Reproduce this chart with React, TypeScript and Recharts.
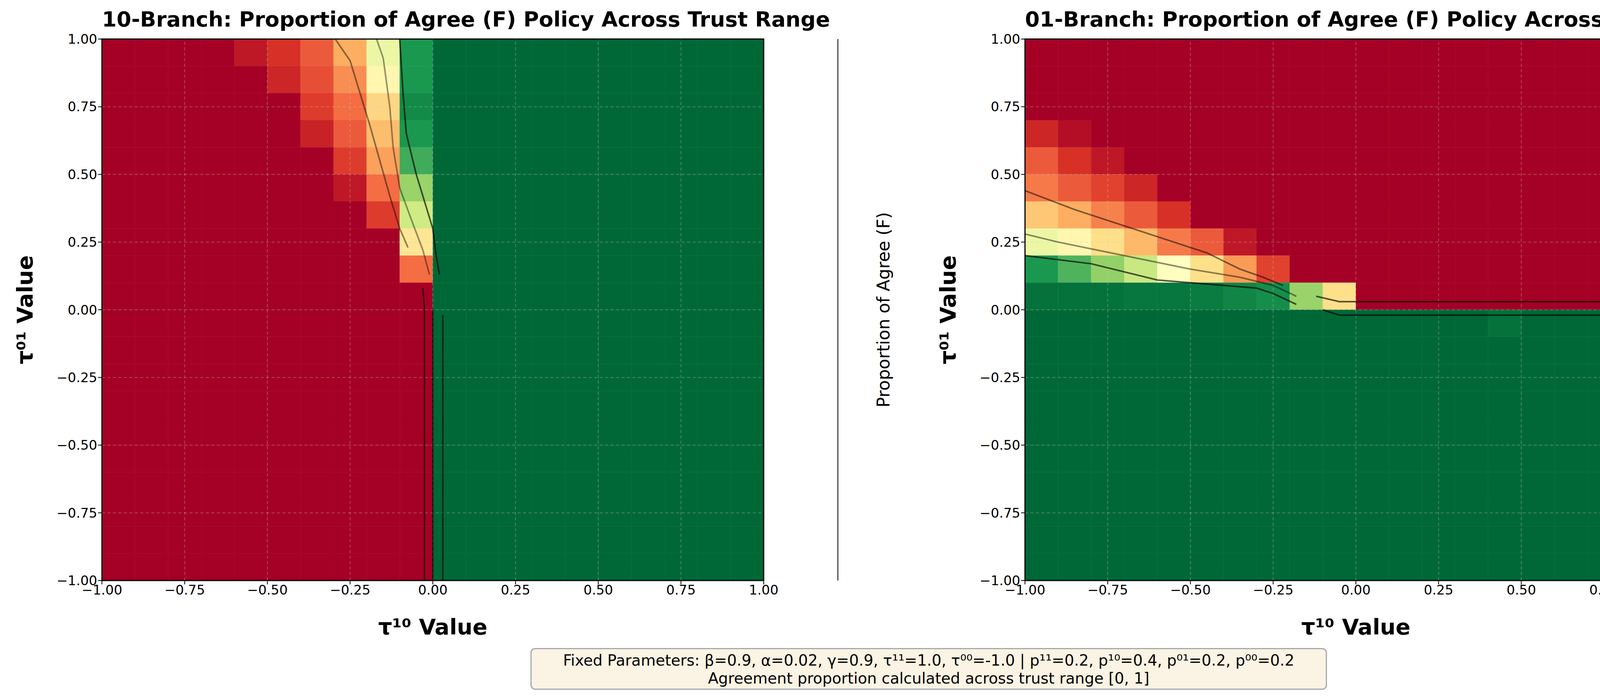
import React from 'react';
import { ComposedChart, XAxis, YAxis, ReferenceArea, ReferenceLine, Scatter } from 'recharts';

// cell edges along each axis (20 cells of width 0.1)
const EDGES = [-1, -0.9, -0.8, -0.7, -0.6, -0.5, -0.4, -0.3, -0.2, -0.1, 0, 0.1, 0.2, 0.3, 0.4, 0.5, 0.6, 0.7, 0.8, 0.9, 1];
const TICKS = [-1, -0.75, -0.5, -0.25, 0, 0.25, 0.5, 0.75, 1];
const CBAR_TICKS = [0, 0.2, 0.4, 0.6, 0.8, 1];

const Z10 = [0, 0, 0, 0, 0, 0, 0, 0, 0, 0];
const O10 = [1, 1, 1, 1, 1, 1, 1, 1, 1, 1];
const Z20 = [...Z10, ...Z10];
const O20 = [...O10, ...O10];

// rows from top (tau01 0.9..1.0) to bottom (-1.0..-0.9), columns from tau10 = -1
const LEFT_ROWS = [
  [0, 0, 0, 0, 0.05, 0.1, 0.17, 0.3, 0.55, 0.9, ...O10],
  [0, 0, 0, 0, 0, 0.08, 0.15, 0.25, 0.47, 0.9, ...O10],
  [0, 0, 0, 0, 0, 0, 0.12, 0.2, 0.38, 0.93, ...O10],
  [0, 0, 0, 0, 0, 0, 0.07, 0.17, 0.33, 0.9, ...O10],
  [0, 0, 0, 0, 0, 0, 0, 0.12, 0.28, 0.85, ...O10],
  [0, 0, 0, 0, 0, 0, 0, 0.05, 0.2, 0.72, ...O10],
  [0, 0, 0, 0, 0, 0, 0, 0, 0.12, 0.62, ...O10],
  [0, 0, 0, 0, 0, 0, 0, 0, 0, 0.42, ...O10],
  [0, 0, 0, 0, 0, 0, 0, 0, 0, 0.2, ...O10],
  [...Z10, ...O10], [...Z10, ...O10], [...Z10, ...O10], [...Z10, ...O10], [...Z10, ...O10],
  [...Z10, ...O10], [...Z10, ...O10], [...Z10, ...O10], [...Z10, ...O10], [...Z10, ...O10], [...Z10, ...O10],
];

const RIGHT_ROWS = [
  Z20, Z20, Z20,
  [0.08, 0.03, 0, 0, 0, 0, 0, 0, 0, 0, ...Z10],
  [0.17, 0.1, 0.05, 0, 0, 0, 0, 0, 0, 0, ...Z10],
  [0.22, 0.17, 0.13, 0.08, 0, 0, 0, 0, 0, 0, ...Z10],
  [0.35, 0.3, 0.23, 0.17, 0.1, 0, 0, 0, 0, 0, ...Z10],
  [0.55, 0.47, 0.4, 0.32, 0.22, 0.17, 0.05, 0, 0, 0, ...Z10],
  [0.9, 0.83, 0.73, 0.63, 0.5, 0.4, 0.27, 0.13, 0, 0, ...Z10],
  [0.98, 0.98, 0.98, 0.97, 0.97, 0.96, 0.94, 0.92, 0.72, 0.4, ...Z10],
  [...O10, 1, 1, 1, 1, 0.98, 1, 1, 1, 1, 1],
  O20, O20, O20, O20, O20, O20, O20, O20, O20,
];

// contour lines: [tau10, tau01]
const L_C25 = [[-0.295, 1], [-0.25, 0.92], [-0.22, 0.8], [-0.19, 0.68], [-0.16, 0.55], [-0.13, 0.42], [-0.1, 0.3], [-0.075, 0.23]];
const L_C25B = [[-0.03, 0.08], [-0.025, 0.0], [-0.025, -1]];
const L_C50 = [[-0.17, 1], [-0.15, 0.93], [-0.13, 0.75], [-0.12, 0.6], [-0.1, 0.45], [-0.07, 0.35], [-0.03, 0.22], [-0.01, 0.13]];
const L_C50B = [[0, 0.0], [0, -1]];
const L_C75 = [[-0.1, 1], [-0.09, 0.8], [-0.08, 0.65], [-0.05, 0.5], [-0.02, 0.38], [0, 0.3], [0.01, 0.2], [0.02, 0.13]];
const L_C75B = [[0.03, -0.02], [0.03, -1]];
const R_C25 = [[-1, 0.44], [-0.85, 0.37], [-0.75, 0.33], [-0.55, 0.25], [-0.45, 0.21], [-0.35, 0.15], [-0.28, 0.12], [-0.22, 0.09]];
const R_C25B = [[-0.12, 0.05], [-0.05, 0.03], [1, 0.03]];
const R_C50 = [[-1, 0.28], [-0.9, 0.25], [-0.7, 0.2], [-0.5, 0.15], [-0.35, 0.12], [-0.25, 0.09], [-0.18, 0.05]];
const R_C75 = [[-1, 0.2], [-0.8, 0.17], [-0.6, 0.11], [-0.5, 0.1], [-0.3, 0.08], [-0.25, 0.06], [-0.18, 0.02]];
const R_C75B = [[-0.1, 0.0], [-0.05, -0.02], [1, -0.02]];

const RDYLGN = ['#a50026', '#d73027', '#f46d43', '#fdae61', '#fee08b', '#ffffbf', '#d9ef8b', '#a6d96a', '#66bd63', '#1a9850', '#006837'];

function hex(c: string) { return [1, 3, 5].map((i) => parseInt(c.slice(i, i + 2), 16)); }
function cmap(v: number) {
  const t = Math.max(0, Math.min(1, v)) * 10;
  const i = Math.min(9, Math.floor(t));
  const f = t - i;
  const a = hex(RDYLGN[i]), b = hex(RDYLGN[i + 1]);
  return `rgb(${a.map((x, k) => Math.round(x + (b[k] - x) * f)).join(',')})`;
}

const FONT = '"DejaVu Sans", sans-serif';
const tickStyle = { fill: '#000', fontSize: 34, fontFamily: FONT };
const fmt2 = (v: number) => v.toFixed(2).replace('-', '\u2212');
const Y_AXIS_W = 160;
const X_AXIS_H = 60;

function toPts(p: number[][]) { return p.map(([x, y]) => ({ x, y })); }

function Heatmap({ rows, contours, width, left }: { rows: number[][]; contours: { pts: number[][]; alpha: number }[]; width: number; left: number }) {
  const cells: React.ReactNode[] = [];
  rows.forEach((row, r) => {
    row.forEach((v, c) => {
      cells.push(
        <ReferenceArea key={`${r}-${c}`} x1={EDGES[c]} x2={EDGES[c + 1]} y1={EDGES[19 - r]} y2={EDGES[20 - r]}
          fill={cmap(v)} fillOpacity={1} stroke={cmap(v)} strokeWidth={0.5} ifOverflow="visible" />
      );
    });
  });
  return (
    <ComposedChart width={width} height={1788}
      margin={{ top: 100, bottom: 1788 - 1487 - X_AXIS_H, left: left - Y_AXIS_W, right: width - left - 1694 }}>
      <XAxis type="number" dataKey="x" domain={[-1, 1]} ticks={TICKS} tickFormatter={fmt2} tick={tickStyle}
        tickSize={10} stroke="#000" strokeWidth={2} allowDataOverflow height={X_AXIS_H}
        label={{ value: 'τ¹⁰ Value', position: 'insideBottom', offset: -78, style: { fontSize: 56, fontWeight: 'bold', fontFamily: FONT, fill: '#000' } }} />
      <YAxis type="number" dataKey="y" domain={[-1, 1]} ticks={TICKS} tickFormatter={fmt2} tick={tickStyle}
        tickSize={10} stroke="#000" strokeWidth={2} allowDataOverflow width={Y_AXIS_W}
        label={{ value: 'τ⁰¹ Value', angle: -90, position: 'insideLeft', offset: -38, style: { fontSize: 56, fontWeight: 'bold', fontFamily: FONT, fill: '#000', textAnchor: 'middle' } }} />
      {cells}
      {TICKS.slice(1, -1).map((t) => (
        <ReferenceLine key={`gx${t}`} x={t} stroke="#c8c8c8" strokeOpacity={0.35} strokeDasharray="8 6" strokeWidth={2} />
      ))}
      {TICKS.slice(1, -1).map((t) => (
        <ReferenceLine key={`gy${t}`} y={t} stroke="#c8c8c8" strokeOpacity={0.35} strokeDasharray="8 6" strokeWidth={2} />
      ))}
      {contours.map((c, i) => (
        <Scatter key={i} data={toPts(c.pts)} line={{ stroke: '#000', strokeOpacity: c.alpha, strokeWidth: 4 }}
          shape={() => null} isAnimationActive={false} />
      ))}
      <ReferenceArea x1={-1} x2={1} y1={-1} y2={1} fill="none" stroke="#000" strokeWidth={3} ifOverflow="visible" />
    </ComposedChart>
  );
}

function ColorBar() {
  const steps = Array.from({ length: 100 }, (_, i) => i / 100);
  return (
    <ComposedChart width={315} height={1788} margin={{ top: 100, bottom: 301, left: 60, right: 0 }}>
      <XAxis type="number" domain={[0, 1]} hide />
      <YAxis type="number" orientation="right" domain={[0, 1]} ticks={CBAR_TICKS} tickFormatter={(v: number) => v.toFixed(1)}
        tick={tickStyle} tickSize={10} stroke="#000" strokeWidth={2} width={170}
        label={{ value: 'Proportion of Agree (F)', angle: -90, position: 'insideRight', offset: 54, style: { fontSize: 44, fontFamily: FONT, fill: '#000', textAnchor: 'middle' } }} />
      {steps.map((s) => (
        <ReferenceArea key={s} x1={0} x2={1} y1={s} y2={s + 0.0101} fill={cmap(s + 0.005)} fillOpacity={1} stroke="none" ifOverflow="visible" />
      ))}
      <ReferenceArea x1={0} x2={1} y1={0} y2={1} fill="none" stroke="#000" strokeWidth={2} ifOverflow="visible" />
    </ComposedChart>
  );
}

const titleStyle: React.CSSProperties = { position: 'absolute', top: 18, fontFamily: FONT, fontWeight: 'bold', fontSize: 54, textAlign: 'center', whiteSpace: 'nowrap' };

export default function App() {
  const lc = [
    { pts: L_C25, alpha: 0.45 }, { pts: L_C25B, alpha: 0.6 }, { pts: L_C50, alpha: 0.4 },
    { pts: L_C50B, alpha: 0.6 }, { pts: L_C75, alpha: 0.65 }, { pts: L_C75B, alpha: 0.6 },
  ];
  const rc = [
    { pts: R_C25, alpha: 0.5 }, { pts: R_C25B, alpha: 0.65 }, { pts: R_C50, alpha: 0.45 },
    { pts: R_C75, alpha: 0.65 }, { pts: R_C75B, alpha: 0.65 },
  ];
  return (
    <div style={{ position: 'absolute', left: 0, top: 0, width: 4681, height: 1788, background: '#fff', overflow: 'hidden' }}>
      <div style={{ ...titleStyle, left: 261, width: 1694 }}>10-Branch: Proportion of Agree (F) Policy Across Trust Range</div>
      <div style={{ ...titleStyle, left: 2624, width: 1692 }}>01-Branch: Proportion of Agree (F) Policy Across Trust Range</div>
      <div style={{ position: 'absolute', left: 0, top: 0 }}>
        <Heatmap rows={LEFT_ROWS} contours={lc} width={2000} left={261} />
      </div>
      <div style={{ position: 'absolute', left: 2000, top: 0 }}><ColorBar /></div>
      <div style={{ position: 'absolute', left: 2330, top: 0 }}>
        <Heatmap rows={RIGHT_ROWS} contours={rc} width={2030} left={294} />
      </div>
      <div style={{ position: 'absolute', left: 4362, top: 0 }}><ColorBar /></div>
      <div style={{
        position: 'absolute', left: 1358, top: 1660, width: 2039, height: 107, boxSizing: 'border-box',
        background: '#fbf3e3', border: '3px solid #a8a8a8', borderRadius: 12, fontFamily: FONT, fontSize: 39,
        textAlign: 'center', lineHeight: '46px', paddingTop: 6,
      }}>
        <div>Fixed Parameters: β=0.9, α=0.02, γ=0.9, τ¹¹=1.0, τ⁰⁰=-1.0 | p¹¹=0.2, p¹⁰=0.4, p⁰¹=0.2, p⁰⁰=0.2</div>
        <div>Agreement proportion calculated across trust range [0, 1]</div>
      </div>
    </div>
  );
}
